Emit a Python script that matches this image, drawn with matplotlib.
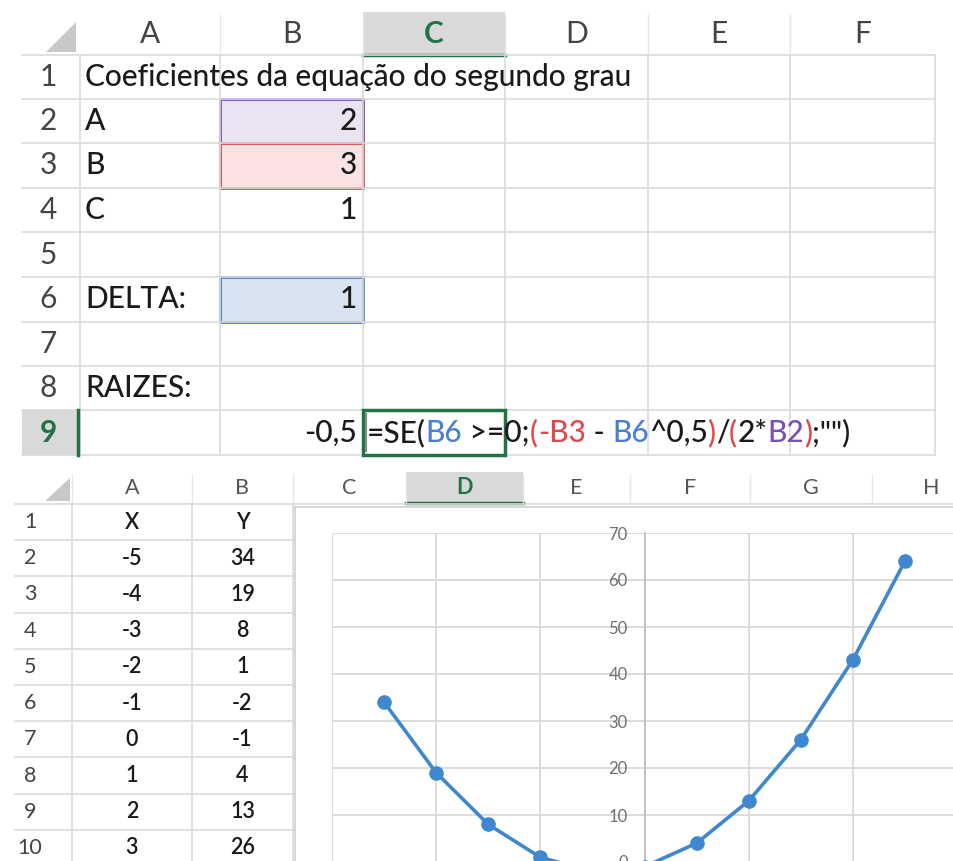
import matplotlib
matplotlib.use('Agg')
import matplotlib.pyplot as plt
from matplotlib.patches import Rectangle, Polygon

plt.rcParams['font.family'] = ['Lato', 'DejaVu Sans']

# planilha de cima
top_cols = ['A', 'B', 'C', 'D', 'E', 'F']
titulo = 'Coeficientes da equação do segundo grau'
coef_names = ['A', 'B', 'C']
coef_vals = ['2', '3', '1']
delta_label = 'DELTA:'
delta_val = '1'
raizes_label = 'RAIZES:'
raiz_val = '-0,5'
formula = [('=SE(', 'k'), ('B6', 'blue'), (' >=0;', 'k'), ('(', 'red'), ('-B3', 'red'),
           (' - ', 'k'), ('B6', 'blue'), ('^0,5', 'k'), (')', 'red'), ('/', 'k'),
           ('(', 'red'), ('2*', 'k'), ('B2', 'purple'), (')', 'red'), (';"")', 'k')]

# planilha de baixo + grafico
bottom_cols = ['A', 'B', 'C', 'D', 'E', 'F', 'G', 'H']
xs = [-5, -4, -3, -2, -1, 0, 1, 2, 3, 4, 5]
ys = [34, 19, 8, 1, -2, -1, 4, 13, 26, 43, 64]
n_table = 9  # linhas visiveis na tabela X/Y

cores = {'k': '#1a1a1a', 'blue': '#4a7fd0', 'red': '#e0484a', 'purple': '#7b4fb8'}
verde = '#217346'
linha = '#dadada'
W, H = 954, 861

fig = plt.figure(figsize=(W / 100, H / 100), dpi=100)
bg = fig.add_axes([0, 0, 1, 1])
bg.set_xlim(0, W)
bg.set_ylim(H, 0)
bg.axis('off')

# ---------- planilha de cima ----------
col_edges = [80, 220, 363, 505, 648, 790, 935]
row_edges = [55, 99, 143, 188, 232, 277, 322, 366, 410, 455]
fs = 21.5
peso = 'medium'

# cabecalho
bg.add_patch(Rectangle((363, 12), 142, 43, fc='#d9d9d9', ec='none'))
bg.plot([363, 505], [55, 55], color=verde, lw=2.5)
bg.add_patch(Polygon([(76, 22), (76, 52), (46, 52)], fc='#c8c8c8', ec='none'))
for i, c in enumerate(top_cols):
    cx = (col_edges[i] + col_edges[i + 1]) / 2
    if c == 'C':
        bg.text(cx, 34, c, ha='center', va='center', fontsize=fs, color=verde, fontweight='bold')
    else:
        bg.text(cx, 34, c, ha='center', va='center', fontsize=fs, color='#444444')
for x in col_edges[1:-1]:
    bg.plot([x, x], [15, 53], color='#e6e6e6', lw=1)

# grade
for y in row_edges:
    bg.plot([22, 935], [y, y], color=linha, lw=1.2)
for x in col_edges:
    bg.plot([x, x], [55, 455], color=linha, lw=1.2)

# linha 9 selecionada
bg.add_patch(Rectangle((22, 410), 56, 45, fc='#d9d9d9', ec='none'))
bg.plot([78, 78], [410, 455], color=verde, lw=2.5)

for r in range(9):
    cy = (row_edges[r] + row_edges[r + 1]) / 2
    if r == 8:
        bg.text(48, cy, str(r + 1), ha='center', va='center', fontsize=fs, color=verde, fontweight='bold')
    else:
        bg.text(48, cy, str(r + 1), ha='center', va='center', fontsize=fs, color='#444444')

def cy_(r):
    return (row_edges[r - 1] + row_edges[r]) / 2

# celulas coloridas
bg.add_patch(Rectangle((220, 99), 143, 44, fc='#e9e3f2', ec=cores['purple'], lw=2))
bg.add_patch(Rectangle((220, 143), 143, 45, fc='#fbe3e3', ec=cores['red'], lw=2))
bg.add_patch(Rectangle((220, 277), 143, 45, fc='#d9e2f1', ec=cores['blue'], lw=2))

kw = dict(va='center', fontsize=fs, color=cores['k'], fontweight=peso)
bg.text(85, cy_(1), titulo, ha='left', **kw)
for i, (nm, v) in enumerate(zip(coef_names, coef_vals)):
    bg.text(85, cy_(i + 2), nm, ha='left', **kw)
    bg.text(357, cy_(i + 2), v, ha='right', **kw)
bg.text(85, cy_(6), delta_label, ha='left', **kw)
bg.text(357, cy_(6), delta_val, ha='right', **kw)
bg.text(85, cy_(8), raizes_label, ha='left', **kw)
bg.text(357, cy_(9), raiz_val, ha='right', **kw)

# celula C9 com a formula
bg.add_patch(Rectangle((363, 410), 142, 45, fc='white', ec=verde, lw=2.5, zorder=3))
bg.plot([366, 366], [414, 451], color='#888888', lw=1.5, zorder=3)
t = bg.text(367, cy_(9), formula[0][0], ha='left', va='center', fontsize=fs,
            color=cores[formula[0][1]], fontweight=peso, zorder=4)
for s, c in formula[1:]:
    t = bg.annotate(s, xy=(1, 0), xycoords=t, ha='left', va='bottom', fontsize=fs,
                    color=cores[c], fontweight=peso, zorder=4)

# ---------- planilha de baixo ----------
bcol_edges = [72, 192, 293, 406, 523, 630, 750, 872, 990]
brow_edges = [504 + 36.2 * i for i in range(11)]
fsb = 15.5

bg.add_patch(Rectangle((406, 472), 117, 31, fc='#d9d9d9', ec='none'))
bg.plot([406, 523], [503, 503], color=verde, lw=2.5)
bg.add_patch(Polygon([(70, 478), (70, 501), (45, 501)], fc='#c8c8c8', ec='none'))
for i, c in enumerate(bottom_cols):
    cx = (bcol_edges[i] + bcol_edges[i + 1]) / 2
    if c == 'D':
        bg.text(cx, 488, c, ha='center', va='center', fontsize=fsb, color=verde, fontweight='bold')
    else:
        bg.text(cx, 488, c, ha='center', va='center', fontsize=fsb, color='#555555')
    bg.plot([bcol_edges[i], bcol_edges[i]], [475, 502], color='#e6e6e6', lw=1)

for y in brow_edges:
    bg.plot([15, W], [y, y], color=linha, lw=1.2)
for x in bcol_edges[:3]:
    bg.plot([x, x], [504, H], color=linha, lw=1.2)

for r in range(10):
    cy = (brow_edges[r] + brow_edges[r + 1]) / 2
    bg.text(30, cy, str(r + 1), ha='center', va='center', fontsize=fsb, color='#444444')

kwb = dict(ha='center', va='center', fontsize=fsb, color=cores['k'], fontweight='semibold')
xa = (bcol_edges[0] + bcol_edges[1]) / 2
xb = (bcol_edges[1] + bcol_edges[2]) / 2
bg.text(xa, (brow_edges[0] + brow_edges[1]) / 2, 'X', **kwb)
bg.text(xb, (brow_edges[0] + brow_edges[1]) / 2, 'Y', **kwb)
for i in range(n_table):
    cy = (brow_edges[i + 1] + brow_edges[i + 2]) / 2
    bg.text(xa, cy, str(xs[i]), **kwb)
    bg.text(xb, cy, str(ys[i]), **kwb)

# area do grafico
bg.add_patch(Rectangle((295, 507), W - 295 + 5, H - 507 + 5, fc='white', ec='#cfcfcf', lw=1.2, zorder=5))

# ---------- grafico ----------
px_left, px_right = 332, 957
px_top, px_bottom = 533, 909
ax = fig.add_axes([px_left / W, (H - px_bottom) / H,
                   (px_right - px_left) / W, (px_bottom - px_top) / H])
ax.set_facecolor('white')
ax.set_xlim(-6, 6)
ax.set_ylim(-10, 70)
ax.set_xticks(range(-6, 7, 2))
ax.set_yticks(range(-10, 71, 10))
ax.grid(True, color='#d9d9d9', lw=1.3)
ax.set_axisbelow(True)
for s in ['top', 'right', 'bottom']:
    ax.spines[s].set_visible(False)
ax.spines['left'].set_position(('data', 0))
ax.spines['left'].set_color('#bfbfbf')
ax.spines['left'].set_linewidth(1.3)
ax.tick_params(axis='x', length=0, labelbottom=False)
ax.tick_params(axis='y', length=0, pad=12, labelsize=12, labelcolor='#6f6f6f')

ax.plot(xs, ys, color='#3f88d0', lw=2.6, marker='o', ms=9.5, zorder=3)

fig.savefig('out.png', dpi=100)
